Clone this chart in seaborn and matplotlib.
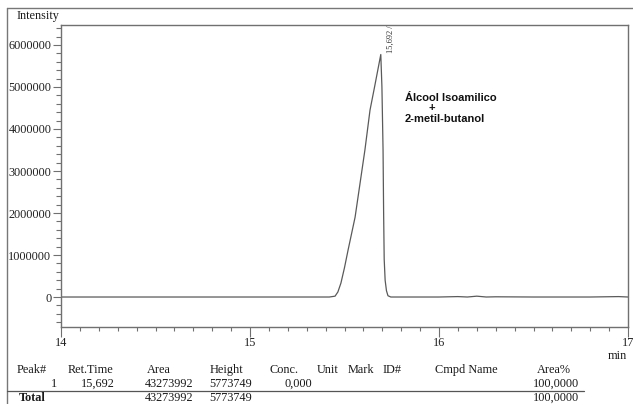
import matplotlib
matplotlib.use("Agg")
import matplotlib.pyplot as plt
from matplotlib.lines import Line2D
from matplotlib.ticker import MultipleLocator, FixedLocator
import seaborn as sns
import pandas as pd

# ---------------- data ----------------
times = [14.00, 14.50, 15.00, 15.30, 15.42, 15.45, 15.465, 15.481, 15.50, 15.519,
         15.556, 15.582, 15.608, 15.635, 15.659, 15.692, 15.698, 15.704, 15.707,
         15.710, 15.715, 15.722, 15.730, 15.745, 15.80, 16.00, 16.10, 16.15, 16.20,
         16.25, 16.30, 16.50, 16.80, 16.95, 17.00]
intensity = [0, 0, 0, 0, 0, 20000, 120000, 330000, 700000, 1120000,
             1900000, 2700000, 3500000, 4450000, 5000000, 5773749, 5000000, 3500000, 2000000,
             900000, 400000, 150000, 30000, 0, 0, 0, 10000, 0, 20000,
             0, 5000, 0, 0, 10000, 0]

y_tick_values = [0, 1000000, 2000000, 3000000, 4000000, 5000000, 6000000]
x_tick_values = [14, 15, 16, 17]

peak_label = "15,692 /"
compound_lines = ["Álcool Isoamilico", "+", "2-metil-butanol"]

table_headers = ["Peak#", "Ret.Time", "Area", "Height", "Conc.", "Unit", "Mark", "ID#", "Cmpd Name", "Area%"]
peak_no = ["1"]
ret_time = ["15,692"]
area = ["43273992"]
height = ["5773749"]
conc = ["0,000"]
area_pct = ["100,0000"]
total_area = "43273992"
total_height = "5773749"
total_pct = "100,0000"

# ---------------- figure ----------------
W, H = 633, 404
sns.set_style("white")
plt.rcParams["font.family"] = ["Liberation Serif", "DejaVu Serif"]

fig = plt.figure(figsize=(W / 100, H / 100), dpi=100)

def fx(px):
    return px / W

def fy(py):
    return 1 - py / H

ax_l, ax_r, ax_t, ax_b = 61, 628, 25, 327
ax = fig.add_axes([fx(ax_l), fy(ax_b), fx(ax_r - ax_l), (ax_b - ax_t) / H])

df = pd.DataFrame({"t": times, "I": intensity})
sns.lineplot(data=df, x="t", y="I", ax=ax, color="#5a5a5a", linewidth=0.9,
             estimator=None, sort=False)

ax.set_xlim(14, 17)
ax.set_ylim(-714000, 6476000)
ax.set_xlabel("")
ax.set_ylabel("")

ax.xaxis.set_major_locator(FixedLocator(x_tick_values))
ax.xaxis.set_minor_locator(MultipleLocator(0.1))
ax.yaxis.set_major_locator(FixedLocator(y_tick_values))
ax.yaxis.set_minor_locator(MultipleLocator(200000))
ax.set_xticklabels([str(v) for v in x_tick_values])
ax.set_yticklabels([str(v) for v in y_tick_values])

spine_c = "#707070"
for s in ax.spines.values():
    s.set_color(spine_c)
    s.set_linewidth(1.0)
    s.set_visible(True)

ax.tick_params(axis="x", which="major", direction="out", length=7, width=0.8,
               color=spine_c, labelsize=8.8, pad=0, labelcolor="#222222")
ax.tick_params(axis="x", which="minor", direction="out", length=3, width=0.8, color=spine_c)
ax.tick_params(axis="y", which="major", direction="out", length=6, width=0.8,
               color=spine_c, labelsize=8.8, pad=1, labelcolor="#222222")
ax.tick_params(axis="y", which="minor", direction="out", length=3.5, width=0.8, color=spine_c)
ax.tick_params(bottom=True, left=True, top=False, right=False)
ax.tick_params(which="minor", bottom=True, left=True, top=False, right=False)

# peak retention time label
ax.annotate(peak_label, xy=(15.692, 5773749), xytext=(7, 1), textcoords="offset points",
            rotation=90, fontsize=6, ha="center", va="bottom", color="#333333")

# compound annotation
sans = ["Liberation Sans", "DejaVu Sans"]
ann_kw = dict(fontsize=8, fontweight="bold", family=sans, va="center", color="#111111")
fig.text(fx(405), fy(98), compound_lines[0], ha="left", **ann_kw)
fig.text(fx(432), fy(108.5), compound_lines[1], ha="center", **ann_kw)
fig.text(fx(405), fy(119.5), compound_lines[2], ha="left", **ann_kw)

# outer frame lines
fig.add_artist(Line2D([fx(7), fx(633)], [fy(8), fy(8)], color="#777777", lw=1.0))
fig.add_artist(Line2D([fx(7), fx(7)], [fy(8), fy(404)], color="#777777", lw=1.0))

txt_c = "#1a1a1a"
fs = 8.8
fig.text(fx(17), fy(16), "Intensity", fontsize=fs, ha="left", va="center", color=txt_c)
fig.text(fx(627), fy(356), "min", fontsize=fs, ha="right", va="center", color=txt_c)

# table header
header_x = [17, 68, 147, 210, 269, 317, 348, 383, 435, 537]
for hx, h in zip(header_x, table_headers):
    fig.text(fx(hx), fy(370), h, fontsize=fs, ha="left", va="center", color=txt_c)

# row 1
row_y = 384
for i in range(len(peak_no)):
    fig.text(fx(57), fy(row_y), peak_no[i], fontsize=fs, ha="right", va="center", color=txt_c)
    fig.text(fx(115), fy(row_y), ret_time[i], fontsize=fs, ha="right", va="center", color=txt_c)
    fig.text(fx(193), fy(row_y), area[i], fontsize=fs, ha="right", va="center", color=txt_c)
    fig.text(fx(252), fy(row_y), height[i], fontsize=fs, ha="right", va="center", color=txt_c)
    fig.text(fx(312), fy(row_y), conc[i], fontsize=fs, ha="right", va="center", color=txt_c)
    fig.text(fx(579), fy(row_y), area_pct[i], fontsize=fs, ha="right", va="center", color=txt_c)

# separator line
fig.add_artist(Line2D([fx(7), fx(584)], [fy(391), fy(391)], color="#555555", lw=0.9))

# total row
tot_y = 398
fig.text(fx(19), fy(tot_y), "Total", fontsize=fs, fontweight="bold", ha="left", va="center", color=txt_c)
fig.text(fx(193), fy(tot_y), total_area, fontsize=fs, ha="right", va="center", color=txt_c)
fig.text(fx(252), fy(tot_y), total_height, fontsize=fs, ha="right", va="center", color=txt_c)
fig.text(fx(579), fy(tot_y), total_pct, fontsize=fs, ha="right", va="center", color=txt_c)

fig.savefig("out.png", dpi=100)
